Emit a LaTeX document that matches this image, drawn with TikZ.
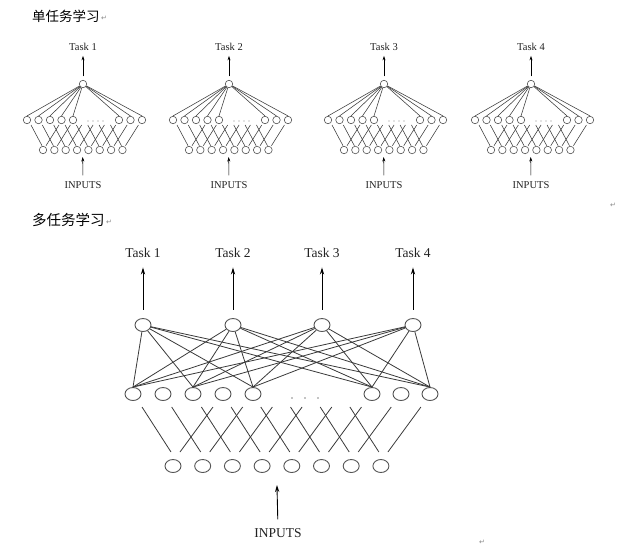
\documentclass[tikz,border=0pt]{standalone}
\usepackage{fontspec}
\setmainfont{Liberation Serif}
\newfontfamily\cjk{Noto Sans CJK SC}
\newfontfamily\dejavu{DejaVu Sans}
\usetikzlibrary{shapes.geometric,arrows.meta,calc}
\definecolor{wiregray}{HTML}{3A3A3A}
\definecolor{unitgray}{HTML}{555555}
\definecolor{textgray}{HTML}{222222}
\definecolor{markgray}{HTML}{888888}
\begin{document}
\begin{tikzpicture}[x=1pt,y=-1pt,
  bigunit/.style={ellipse,draw=unitgray,line width=0.9pt,minimum width=16pt,minimum height=13pt,inner sep=0pt},
  smallunit/.style={circle,draw=unitgray,line width=0.6pt,minimum size=7.5pt,inner sep=0pt},
  bigwire/.style={draw=wiregray,line width=0.8pt},
  smallwire/.style={draw=wiregray,line width=0.55pt},
  bigarrow/.style={draw=black,-{Stealth[length=7pt,width=4.2pt]},line width=0.9pt},
  smallarrow/.style={draw=black,-{Stealth[length=4.5pt,width=3pt]},line width=0.6pt},
  biglabel/.style={inner sep=0pt,text=textgray,font=\fontsize{13.5}{15}\selectfont},
  smalllabel/.style={inner sep=0pt,text=textgray,font=\fontsize{10.5}{12}\selectfont},
  title/.style={inner sep=0pt,anchor=west,text=black},
  retmark/.style={inner sep=0pt,text=markgray,font=\dejavu\fontsize{7}{8}\selectfont},
  dotmark/.style={circle,fill=markgray,inner sep=0pt,minimum size=1.6pt}
]
\useasboundingbox[fill=white] (0,0) rectangle (618,547);

% titles
\node[title,font=\cjk\fontsize{13.5}{15}\selectfont] (title1) at (32,16) {单任务学习};
\node[retmark,anchor=west] (ret1) at ([xshift=1pt,yshift=-2pt]title1.east) {↵};
\node[title,font=\cjk\fontsize{14.5}{16}\selectfont] (title2) at (32,220) {多任务学习};
\node[retmark,anchor=west] (ret2) at ([xshift=1pt,yshift=-2pt]title2.east) {↵};
\node[retmark] (ret3) at (613,205) {↵};
\node[retmark] (ret4) at (482,542) {↵};

% ---------- single-task networks ----------
\foreach \cx/\n in {83/1,229/2,384/3,531/4}{
  \begin{scope}[shift={(\cx-83,0)}]
    \node[smallunit] (s\n-o) at (83,84) {};
    \node[smalllabel] (s\n-t) at (83,47) {Task \n};
    \draw[smallarrow,shorten <=3.5pt,shorten >=5pt] (s\n-o.north) -- (s\n-t.south);
    \foreach \x [count=\i] in {27,38.5,50,61.5,73,119,130.5,142}{
      \node[smallunit] (s\n-h\i) at (\x,120) {};
      \draw[smallwire] (s\n-o) -- (s\n-h\i.north);
    }
    \foreach \d [count=\k] in {88,93,98,103}{
      \node[dotmark,minimum size=1.1pt] (s\n-d\k) at (\d,121) {};
    }
    \foreach \i in {1,...,8}{
      \node[smallunit] (s\n-i\i) at ({43+11.35*(\i-1)},150) {};
      \draw[smallwire] ($(s\n-i\i)+(-12,-25)$) -- ($(s\n-i\i)+(-1,-4.3)$);
      \draw[smallwire] ($(s\n-i\i)+(3,-4.3)$) -- ($(s\n-i\i)+(16,-25)$);
    }
    \node[smalllabel] (s\n-in) at (83,185) {INPUTS};
    \coordinate (s\n-tip) at ($(s\n-i4)!0.5!(s\n-i5)+(0,7)$);
    \draw[smallarrow,shorten <=6pt] (s\n-in.north) -- (s\n-tip);
  \end{scope}
}

% ---------- multi-task network ----------
\foreach \x [count=\t] in {143,233,322,413}{
  \node[bigunit] (T\t) at (\x,325) {};
  \node[biglabel] (L\t) at (\x,253) {Task \t};
  \draw[bigarrow,shorten <=8.5pt,shorten >=9.5pt] (T\t.north) -- (L\t.south);
}
\foreach \x [count=\i] in {133,163,193,223,253,372,401,430}{
  \node[bigunit] (H\i) at (\x,394) {};
}
\foreach \t in {1,...,4}{
  \foreach \h in {1,3,5,6,8}{
    \draw[bigwire] (T\t) -- (H\h.north);
  }
}
\foreach \d [count=\k] in {292,305,318}{
  \node[dotmark] (D\k) at (\d,398) {};
}
\foreach \i in {1,...,8}{
  \node[bigunit] (I\i) at ({173+29.7*(\i-1)},466) {};
  \draw[bigwire] ($(I\i)+(-31,-59)$) -- ($(I\i)+(-2,-14)$);
  \draw[bigwire] ($(I\i)+(7,-14)$) -- ($(I\i)+(40,-59)$);
}
\node[biglabel] (IN) at (278,533) {INPUTS};
\coordinate (Itip) at ($(I4)!0.5!(I5)+(0,19)$);
\draw[bigarrow,shorten <=9pt] (IN.north) -- (Itip);
\end{tikzpicture}
\end{document}
